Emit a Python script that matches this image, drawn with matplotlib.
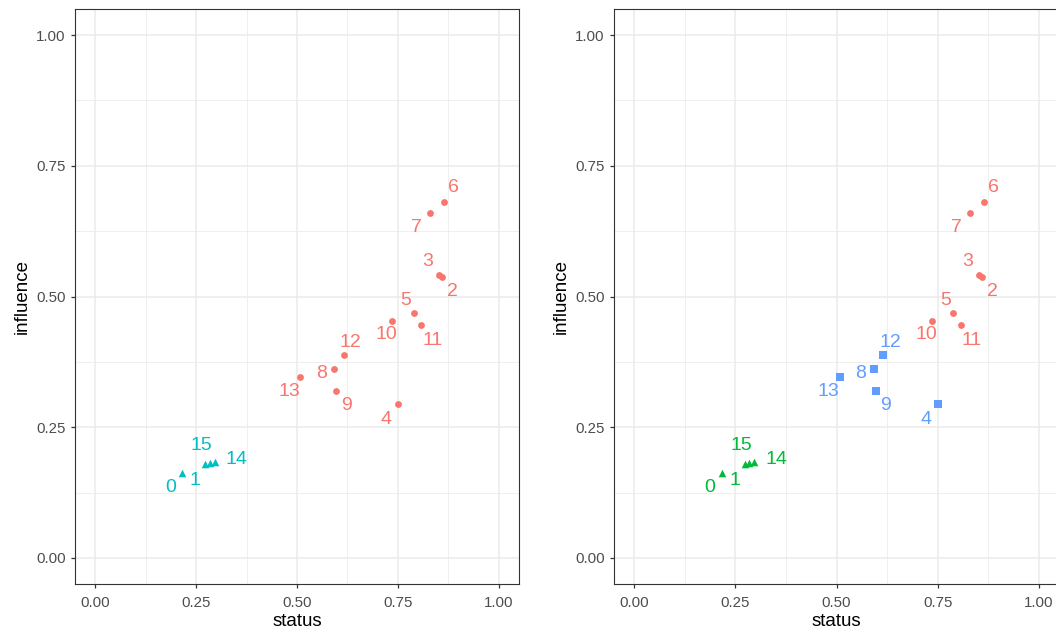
import numpy as np
import matplotlib.pyplot as plt

plt.rcParams['font.family'] = ['Liberation Sans', 'DejaVu Sans']

# node ids, status (x) and influence (y)
nodes = [0, 1, 2, 3, 4, 5, 6, 7, 8, 9, 10, 11, 12, 13, 14, 15]
status = [0.216, 0.273, 0.860, 0.853, 0.751, 0.789, 0.864, 0.829,
          0.592, 0.597, 0.736, 0.808, 0.616, 0.508, 0.296, 0.284]
influence = [0.162, 0.180, 0.538, 0.541, 0.294, 0.468, 0.681, 0.660,
             0.362, 0.320, 0.454, 0.446, 0.388, 0.346, 0.183, 0.181]

# two-group and three-group membership
groups2 = [1, 1, 0, 0, 0, 0, 0, 0, 0, 0, 0, 0, 0, 0, 1, 1]
groups3 = [1, 1, 0, 0, 2, 0, 0, 0, 2, 2, 0, 0, 2, 2, 1, 1]

# label offsets in pixels (dx, dy)
offsets = {0: (-12, -14), 1: (-10, -17), 2: (10, -15), 3: (-12, 14),
           4: (-12, -15), 5: (-8, 13), 6: (10, 14), 7: (-13, -15),
           8: (-13, -5), 9: (10, -15), 10: (-6, -14), 11: (11, -16),
           12: (7, 13), 13: (-11, -15), 14: (22, 3), 15: (-8, 18)}

colors2 = ['#F8766D', '#00BFC4']
colors3 = ['#F8766D', '#00BA38', '#619CFF']
markers = ['o', '^', 's']

W, H = 1056, 634
fig = plt.figure(figsize=(W / 100, H / 100), dpi=100)
ax1 = fig.add_axes([75 / W, (H - 584) / H, 444 / W, 575 / H])
ax2 = fig.add_axes([614 / W, (H - 584) / H, 445 / W, 575 / H])

ticks = [0, 0.25, 0.5, 0.75, 1.0]
ticklabels = ['0.00', '0.25', '0.50', '0.75', '1.00']


def draw(ax, groups, colors):
    ax.set_xlim(-0.05, 1.05)
    ax.set_ylim(-0.05, 1.05)
    ax.set_xticks(ticks)
    ax.set_yticks(ticks)
    ax.set_xticklabels(ticklabels)
    ax.set_yticklabels(ticklabels)
    ax.set_xticks([0.125, 0.375, 0.625, 0.875], minor=True)
    ax.set_yticks([0.125, 0.375, 0.625, 0.875], minor=True)
    ax.grid(which='major', color='#EBEBEB', linewidth=1.1, zorder=0)
    ax.grid(which='minor', color='#EBEBEB', linewidth=0.55, zorder=0)
    ax.tick_params(which='minor', length=0)
    ax.tick_params(which='major', length=3.2, color='#333333', width=0.9,
                   labelsize=10.8, labelcolor='#4D4D4D')
    ax.tick_params(axis='x', pad=5.5)
    ax.tick_params(axis='y', pad=3.5)
    for s in ax.spines.values():
        s.set_color('#333333')
        s.set_linewidth(0.8)
    ax.set_axisbelow(True)
    ax.set_xlabel('status', fontsize=13.5, labelpad=2)
    ax.set_ylabel('influence', fontsize=13.5, labelpad=4)
    for g in sorted(set(groups)):
        idx = [i for i in range(len(nodes)) if groups[i] == g]
        ax.scatter([status[i] for i in idx], [influence[i] for i in idx],
                   s=30 if markers[g] != 'o' else 24, marker=markers[g],
                   color=colors[g], linewidths=0, zorder=3)
    for i, n in enumerate(nodes):
        dx, dy = offsets[n]
        ax.annotate(str(n), (status[i], influence[i]), xytext=(dx * 0.72, dy * 0.72),
                    textcoords='offset points', ha='center', va='center',
                    fontsize=14, color=colors[groups[i]], zorder=4)


draw(ax1, groups2, colors2)
draw(ax2, groups3, colors3)

fig.savefig('out.png', dpi=100)
